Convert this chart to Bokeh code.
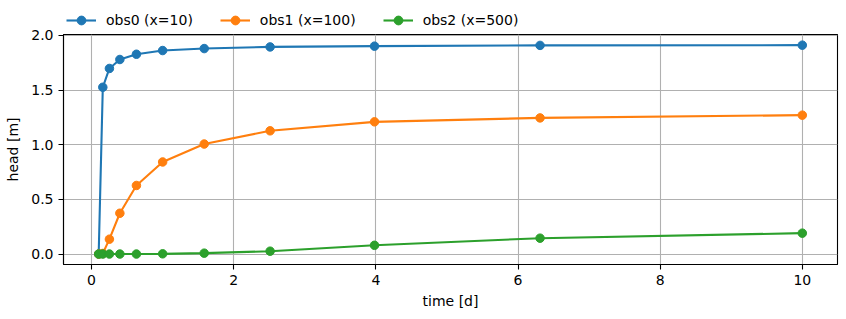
from bokeh.plotting import figure
from bokeh.models import Legend, LegendItem, Range1d, FixedTicker
from bokeh.layouts import column
from bokeh.embed import file_html
from bokeh.resources import INLINE

time = [0.1, 0.158, 0.251, 0.398, 0.631, 1.0, 1.585, 2.512, 3.981, 6.31, 10.0]
obs0 = [0.0, 1.525, 1.697, 1.779, 1.827, 1.861, 1.879, 1.894, 1.901, 1.908, 1.910]
obs1 = [0.0, 0.005, 0.136, 0.373, 0.627, 0.842, 1.006, 1.127, 1.209, 1.245, 1.270]
obs2 = [0.0, 0.0, 0.0, 0.0, 0.0, 0.002, 0.008, 0.026, 0.080, 0.145, 0.191]
names = ["obs0 (x=10)", "obs1 (x=100)", "obs2 (x=500)"]
colors = ["#1f77b4", "#ff7f0e", "#2ca02c"]
x_ticks = [0, 2, 4, 6, 8, 10]
y_ticks = [0.0, 0.5, 1.0, 1.5, 2.0]

FONT = "DejaVu Sans"
FS = "14px"
LW = 2.1
MS = 8.5

# main plot
p = figure(width=846, height=291, output_backend="svg", toolbar_location=None,
           min_border_left=63, min_border_right=9, min_border_top=6, min_border_bottom=55)
p.x_range = Range1d(-0.395, 10.495)
p.y_range = Range1d(-0.0956, 2.0076)

for ys, c in zip([obs0, obs1, obs2], colors):
    p.line(time, ys, line_color=c, line_width=LW)
    p.scatter(time, ys, size=MS, fill_color=c, line_color=c)

for ax in (p.xaxis[0], p.yaxis[0]):
    ax.axis_line_color = "black"
    ax.axis_line_width = 1.1
    ax.major_tick_line_color = "black"
    ax.major_tick_line_width = 1.1
    ax.major_tick_out = 5
    ax.major_tick_in = 0
    ax.minor_tick_line_color = None
    ax.major_label_text_font = FONT
    ax.major_label_text_font_size = FS
    ax.major_label_text_color = "black"
    ax.axis_label_text_font = FONT
    ax.axis_label_text_font_size = FS
    ax.axis_label_text_font_style = "normal"
    ax.axis_label_text_color = "black"

p.xaxis.ticker = FixedTicker(ticks=x_ticks)
p.yaxis.ticker = FixedTicker(ticks=y_ticks)
p.yaxis.major_label_overrides = {v: f"{v:.1f}" for v in y_ticks}
p.xaxis.axis_label = "time [d]"
p.yaxis.axis_label = "head [m]"
p.xaxis.axis_label_standoff = 5
p.yaxis.axis_label_standoff = 7

p.xgrid.ticker = FixedTicker(ticks=x_ticks)
p.ygrid.ticker = FixedTicker(ticks=y_ticks)
p.grid.grid_line_color = "#b0b0b0"
p.grid.grid_line_width = 1.1

p.outline_line_color = "black"
p.outline_line_width = 1.1
p.outline_line_alpha = 1.0

# legend strip above the plot (its renderers sit outside the strip's visible range)
lg = figure(width=846, height=28, output_backend="svg", toolbar_location=None,
            x_axis_location=None, y_axis_location=None,
            min_border_left=0, min_border_right=0, min_border_top=0, min_border_bottom=0)
lg.x_range = Range1d(0, 1)
lg.y_range = Range1d(0, 1)
lg.grid.visible = False
lg.outline_line_color = None

items = []
for name, c in zip(names, colors):
    r1 = lg.line([-5, -4], [-5, -4], line_color=c, line_width=LW)
    r2 = lg.scatter([-5], [-5], size=MS, fill_color=c, line_color=c)
    items.append(LegendItem(label=name, renderers=[r1, r2]))

legend = Legend(items=items, orientation="horizontal", location=(3, -3))
legend.border_line_alpha = 0
legend.background_fill_alpha = 0
legend.label_text_font = FONT
legend.label_text_font_size = FS
legend.label_text_color = "black"
legend.glyph_width = 30
legend.label_standoff = 10
legend.spacing = 27
legend.padding = 0
legend.margin = 0
legend.glyph_height = 22
legend.label_height = 22
lg.add_layout(legend, "center")

layout = column(lg, p, spacing=0)
open("out.html", "w").write(file_html(layout, INLINE))
